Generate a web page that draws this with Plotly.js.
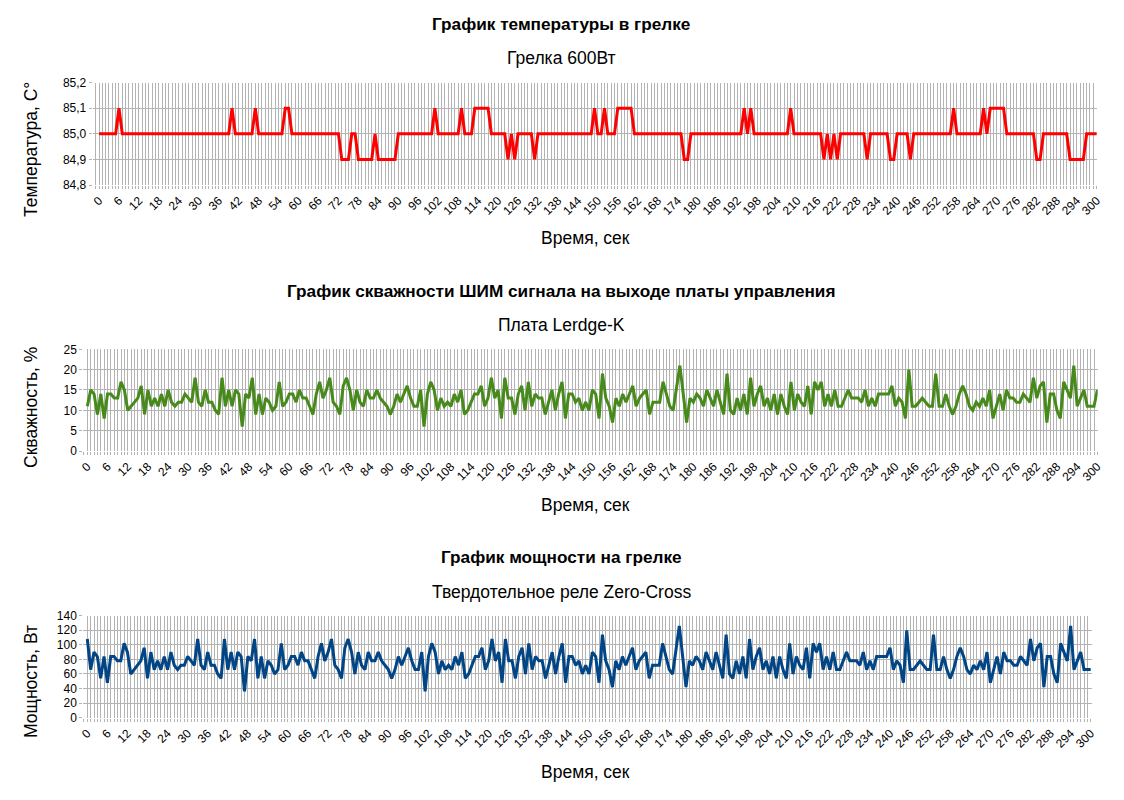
<!DOCTYPE html>
<html><head><meta charset="utf-8">
<script src="https://cdn.plot.ly/plotly-3.0.1.min.js"></script>
<style>html,body{margin:0;padding:0;background:#fff}#chart{width:1124px;height:800px}</style>
</head><body><div id="chart"></div>
<script>
// time axis (seconds, categories 0..300)
const seconds = Array.from({length: 301}, (_, i) => i);

// Temperature in heater, °C
const temperature = [
85.0,85.0,85.0,85.0,85.0,85.0,85.1,85.0,85.0,85.0,
85.0,85.0,85.0,85.0,85.0,85.0,85.0,85.0,85.0,85.0,
85.0,85.0,85.0,85.0,85.0,85.0,85.0,85.0,85.0,85.0,
85.0,85.0,85.0,85.0,85.0,85.0,85.0,85.0,85.0,85.0,
85.1,85.0,85.0,85.0,85.0,85.0,85.0,85.1,85.0,85.0,
85.0,85.0,85.0,85.0,85.0,85.0,85.1,85.1,85.0,85.0,
85.0,85.0,85.0,85.0,85.0,85.0,85.0,85.0,85.0,85.0,
85.0,85.0,85.0,84.9,84.9,84.9,85.0,85.0,84.9,84.9,
84.9,84.9,84.9,85.0,84.9,84.9,84.9,84.9,84.9,84.9,
85.0,85.0,85.0,85.0,85.0,85.0,85.0,85.0,85.0,85.0,
85.0,85.1,85.0,85.0,85.0,85.0,85.0,85.0,85.0,85.1,
85.0,85.0,85.0,85.1,85.1,85.1,85.1,85.1,85.0,85.0,
85.0,85.0,85.0,84.9,85.0,84.9,85.0,85.0,85.0,85.0,
85.0,84.9,85.0,85.0,85.0,85.0,85.0,85.0,85.0,85.0,
85.0,85.0,85.0,85.0,85.0,85.0,85.0,85.0,85.0,85.1,
85.0,85.0,85.1,85.0,85.0,85.0,85.1,85.1,85.1,85.1,
85.1,85.0,85.0,85.0,85.0,85.0,85.0,85.0,85.0,85.0,
85.0,85.0,85.0,85.0,85.0,85.0,84.9,84.9,85.0,85.0,
85.0,85.0,85.0,85.0,85.0,85.0,85.0,85.0,85.0,85.0,
85.0,85.0,85.0,85.0,85.1,85.0,85.1,85.0,85.0,85.0,
85.0,85.0,85.0,85.0,85.0,85.0,85.0,85.0,85.1,85.0,
85.0,85.0,85.0,85.0,85.0,85.0,85.0,85.0,84.9,85.0,
84.9,85.0,84.9,85.0,85.0,85.0,85.0,85.0,85.0,85.0,
85.0,84.9,85.0,85.0,85.0,85.0,85.0,85.0,84.9,84.9,
85.0,85.0,85.0,85.0,84.9,85.0,85.0,85.0,85.0,85.0,
85.0,85.0,85.0,85.0,85.0,85.0,85.0,85.1,85.0,85.0,
85.0,85.0,85.0,85.0,85.0,85.0,85.1,85.0,85.1,85.1,
85.1,85.1,85.1,85.0,85.0,85.0,85.0,85.0,85.0,85.0,
85.0,85.0,84.9,84.9,85.0,85.0,85.0,85.0,85.0,85.0,
85.0,85.0,84.9,84.9,84.9,84.9,84.9,85.0,85.0,85.0,
85.0
];

// PWM duty cycle, %
const dutyCycle = [
11,15,14,9,14,8,14,14,13,13,
17,15,10,11,12,13,16,9,15,11,
13,11,14,11,15,12,11,12,12,14,
13,12,18,12,11,15,12,12,10,9,
18,11,15,11,15,14,6,14,13,18,
9,14,9,13,12,10,11,17,11,12,
14,14,12,15,13,13,11,9,14,17,
13,15,18,12,11,9,16,18,15,10,
15,12,11,15,13,13,15,13,12,11,
9,11,14,12,14,16,13,11,11,15,
6,14,17,15,10,13,11,12,11,14,
12,15,9,10,12,14,14,16,11,13,
18,13,15,8,18,13,13,9,14,16,
10,17,11,14,13,13,9,12,15,10,
14,17,8,14,14,12,13,10,12,10,
15,14,8,19,13,11,7,13,11,14,
12,14,16,11,13,14,15,9,12,12,
12,17,14,11,10,16,21,14,7,13,
12,14,13,11,15,13,11,15,12,9,
19,10,9,13,10,14,9,18,11,14,
16,11,13,10,14,9,14,11,9,17,
10,14,12,11,16,9,17,15,17,11,
14,11,15,11,11,13,15,13,13,13,
12,15,11,13,11,14,14,14,14,16,
11,13,12,8,20,11,11,12,13,12,
11,11,19,11,11,14,11,9,11,14,
16,14,11,10,12,11,13,11,15,8,
11,14,10,15,13,13,12,12,14,13,
12,18,13,16,17,7,14,14,10,8,
17,15,13,21,11,13,15,11,11,11,
15
];

// Power on heater, W
const power = [
108,66,90,84,54,84,48,84,84,78,
78,102,90,60,66,72,78,96,54,90,
66,78,66,84,66,90,72,66,72,72,
84,78,72,108,72,66,90,72,72,60,
54,108,66,90,66,90,84,36,84,78,
108,54,84,54,78,72,60,66,102,66,
72,84,84,72,90,78,78,66,54,84,
102,78,90,108,72,66,54,96,108,90,
60,90,72,66,90,78,78,90,78,72,
66,54,66,84,72,84,96,78,66,66,
90,36,84,102,90,60,78,66,72,66,
84,72,90,54,60,72,84,84,96,66,
78,108,78,90,48,108,78,78,54,84,
96,60,102,66,84,78,78,54,72,90,
60,84,102,48,84,84,72,78,60,72,
60,90,84,48,114,78,66,42,78,66,
84,72,84,96,66,78,84,90,54,72,
72,72,102,84,66,60,96,126,84,42,
78,72,84,78,66,90,78,66,90,72,
54,114,60,54,78,60,84,54,108,66,
84,96,66,78,60,84,54,84,66,54,
102,60,84,72,66,96,54,102,90,102,
66,84,66,90,66,66,78,90,78,78,
78,72,90,66,78,66,84,84,84,84,
96,66,78,72,48,120,66,66,72,78,
72,66,66,114,66,66,84,66,54,66,
84,96,84,66,60,72,66,78,66,90,
48,66,84,60,90,78,78,72,72,84,
78,72,108,78,96,102,42,84,84,60,
48,102,90,78,126,66,78,90,66,66,
66
];

const tempTicks = [84.8, 84.9, 85.0, 85.1, 85.2];
const dutyTicks = [0, 5, 10, 15, 20, 25];
const powerTicks = [0, 20, 40, 60, 80, 100, 120, 140];

const titles = [
  {main: 'График температуры в грелке', sub: 'Грелка 600Вт', y: 'Температура, C°', x: 'Время, сек'},
  {main: 'График скважности ШИМ сигнала на выходе платы управления', sub: 'Плата Lerdge-K', y: 'Скважность, %', x: 'Время, сек'},
  {main: 'График мощности на грелке', sub: 'Твердотельное реле Zero-Cross', y: 'Мощность, Вт', x: 'Время, сек'}
];

const W = 1124, H = 800;
const px = (a, b) => [a / W, b / W];
const py = (top, bottom) => [1 - bottom / H, 1 - top / H];
const grid = '#b3b3b3';
const FONT = 'Liberation Sans, Arial, sans-serif';

function xAxis(domain, range, anchor) {
  return {
    domain, range, anchor, type: 'linear',
    tickmode: 'linear', tick0: 0, dtick: 6, tickangle: -45,
    showgrid: true, gridcolor: grid, gridwidth: 1, zeroline: false, showline: false,
    ticks: 'outside', ticklen: 3, tickcolor: grid,
    tickfont: {family: FONT, size: 12, color: '#000'},
    minor: {tick0: 0, dtick: 1, showgrid: true, gridcolor: grid, gridwidth: 1,
            ticks: 'outside', ticklen: 3, tickcolor: grid},
    fixedrange: true
  };
}
function yAxis(domain, range, tickvals, anchor, fmt) {
  return {
    domain, range, anchor, tickmode: 'array', tickvals, tickformat: fmt,
    showgrid: true, gridcolor: grid, gridwidth: 1, zeroline: false, showline: false,
    ticks: 'outside', ticklen: 3, tickcolor: grid,
    tickfont: {family: FONT, size: 12, color: '#000'}, fixedrange: true
  };
}

const data = [
  {x: seconds, y: temperature, xaxis: 'x', yaxis: 'y', type: 'scatter', mode: 'lines',
   line: {color: '#ff0000', width: 3}, hoverinfo: 'skip'},
  {x: seconds, y: dutyCycle, xaxis: 'x2', yaxis: 'y2', type: 'scatter', mode: 'lines',
   line: {color: '#468a1a', width: 3}, hoverinfo: 'skip'},
  {x: seconds, y: power, xaxis: 'x3', yaxis: 'y3', type: 'scatter', mode: 'lines',
   line: {color: '#004586', width: 3}, hoverinfo: 'skip'}
];

const layout = {
  width: W, height: H, margin: {l: 0, r: 0, t: 0, b: 0},
  paper_bgcolor: '#fff', plot_bgcolor: '#fff', showlegend: false,
  separators: ', ',
  font: {family: FONT, color: '#000'},
  xaxis: xAxis(px(92.7, 1097.3), [-1.9, 300.2], 'y'),
  yaxis: yAxis(py(82.7, 185), [84.8, 85.2], tempTicks, 'x', '.1f'),
  xaxis2: xAxis(px(83.3, 1097.7), [-1.2, 300.1], 'y2'),
  yaxis2: yAxis(py(349.3, 451), [0, 25], dutyTicks, 'x2', 'd'),
  xaxis3: xAxis(px(83.3, 1091.7), [-1.2, 300.3], 'y3'),
  yaxis3: yAxis(py(615.7, 717.7), [0, 140], powerTicks, 'x3', 'd'),
  annotations: []
};

const pos = [
  {main: 24, sub: 58, xt: 238, xc: 585, yc: 150},
  {main: 291, sub: 325, xt: 505, xc: 585, yc: 408},
  {main: 557, sub: 592, xt: 772, xc: 585, yc: 682}
];
titles.forEach((t, i) => {
  const p = pos[i];
  const a = (text, x, y, size, bold, angle) => layout.annotations.push({
    text: bold ? '<b>' + text + '</b>' : text, xref: 'paper', yref: 'paper',
    x: x / W, y: 1 - y / H, xanchor: 'center', yanchor: 'middle', showarrow: false,
    textangle: angle || 0, font: {family: FONT, size, color: '#000'}
  });
  a(t.main, 561, p.main, 17.2, true);
  a(t.sub, 561, p.sub, 17.5, false);
  a(t.x, p.xc, p.xt, 17.5, false);
  a(t.y, 31, p.yc, 17.5, false, -90);
});

Plotly.newPlot('chart', data, layout, {displayModeBar: false, staticPlot: true});
</script>
</body></html>
